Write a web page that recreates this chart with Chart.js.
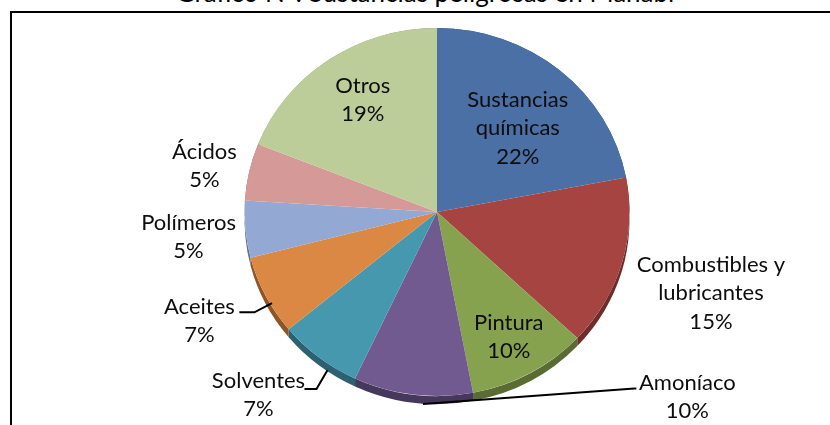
<!DOCTYPE html>
<html>
<head>
<meta charset="utf-8">
<script src="https://cdn.jsdelivr.net/npm/chart.js@4.4.1/dist/chart.umd.min.js"></script>
<style>
  html, body { margin: 0; padding: 0; background: #fff; }
  #wrap { position: relative; width: 830px; height: 425px; overflow: hidden; }
  #title { position: absolute; left: 0; width: 850px; top: -24px; text-align: center;
           font: 26px Lato, sans-serif; color: #000; white-space: nowrap; }
  #frame { position: absolute; left: 10px; top: 11px; width: 900px; height: 500px; border: 2px solid #000; }
  canvas { position: absolute; left: 0; top: 0; }
</style>
</head>
<body>
<div id="wrap">
  <div id="title">Gráfico N°: Sustancias peligrosas en Manabí</div>
  <div id="frame"></div>
  <canvas id="pieChart" width="830" height="425"></canvas>
</div>
<script>
// data
const categories = ["Sustancias químicas", "Combustibles y lubricantes", "Pintura", "Amoníaco",
  "Solventes", "Aceites", "Polímeros", "Ácidos", "Otros"];
const shares = [22, 15, 10, 10, 7, 7, 5, 5, 19];
const labelLines = [["Sustancias", "químicas"], ["Combustibles y", "lubricantes"], ["Pintura"], ["Amoníaco"],
  ["Solventes"], ["Aceites"], ["Polímeros"], ["Ácidos"], ["Otros"]];

// styles
const faceColors = ["#4b70a6", "#a64441", "#87a24f", "#715a90", "#4598ae", "#da8844", "#93a9d3", "#d59a98", "#bccd99"];
const rimColors = ["#2f4a70", "#6e2c2a", "#5a6b33", "#46375c", "#2b6171", "#8e5526", "#62718c", "#8c6565", "#7c8765"];
const stretchX = 1.046;   // pie is drawn a bit wider than tall
const depth = 8;          // 3d rim thickness

// label placement: distance from centre (in radii) and angle shift (deg) from the slice middle
const labelDist = [0.62, 1.49, 0.774, 1.644, 1.36, 1.369, 1.298, 1.234, 0.72];
const labelShift = [3, 1, 0, -59.5, 5.2, 1.4, -0.6, -0.9, 1.8];
// leader lines: [angle from top on the pie, radius factor, elbow dx, dy, end dx, dy] relative to label centre
const leaders = {
  3: [184, 1.046, -53, -8.5, -51, -8.5],
  4: [213.5, 1.03, 58, -6, 46, -6],
  5: [240, 0.99, 55, -8.5, 40, -8.5]
};

const rad = (deg) => (deg - 90) * Math.PI / 180;

const ellipsePie = {
  id: "ellipsePie",
  beforeDatasetsDraw(chart) {
    const arcs = chart.getDatasetMeta(0).data;
    const ctx = chart.ctx;
    ctx.save();
    ctx.translate(arcs[0].x, 0);
    ctx.scale(stretchX, 1);
    ctx.translate(-arcs[0].x, 0);
    arcs.forEach((a, i) => {
      ctx.beginPath();
      ctx.arc(a.x, a.y + depth, a.outerRadius, a.startAngle, a.endAngle);
      ctx.arc(a.x, a.y, a.outerRadius, a.endAngle, a.startAngle, true);
      ctx.closePath();
      ctx.fillStyle = rimColors[i];
      ctx.fill();
    });
  },
  afterDatasetsDraw(chart) {
    chart.ctx.restore();
  }
};

const pieLabels = {
  id: "pieLabels",
  afterDraw(chart) {
    const arcs = chart.getDatasetMeta(0).data;
    const ctx = chart.ctx;
    const total = shares.reduce((s, v) => s + v, 0);
    ctx.save();
    ctx.font = "22px Lato, sans-serif";
    ctx.fillStyle = "#0d0d0d";
    ctx.textAlign = "center";
    ctx.textBaseline = "middle";
    arcs.forEach((a, i) => {
      const mid = (a.startAngle + a.endAngle) / 2 + labelShift[i] * Math.PI / 180;
      const r = a.outerRadius * labelDist[i];
      const cx = a.x + r * stretchX * Math.cos(mid);
      const cy = a.y + r * Math.sin(mid);
      const lines = labelLines[i].concat([Math.round(shares[i] / total * 100) + "%"]);
      const lh = 28.5;
      lines.forEach((t, k) => {
        ctx.fillText(t, cx, cy + (k - (lines.length - 1) / 2) * lh);
      });
      const ld = leaders[i];
      if (ld) {
        const ang = rad(ld[0]);
        const px = a.x + a.outerRadius * ld[1] * stretchX * Math.cos(ang);
        const py = a.y + a.outerRadius * ld[1] * Math.sin(ang);
        ctx.beginPath();
        ctx.moveTo(px, py);
        ctx.lineTo(cx + ld[2], cy + ld[3]);
        ctx.lineTo(cx + ld[4], cy + ld[5]);
        ctx.strokeStyle = "#000";
        ctx.lineWidth = 2;
        ctx.stroke();
      }
    });
    ctx.restore();
  }
};

new Chart(document.getElementById("pieChart"), {
  type: "pie",
  data: {
    labels: categories,
    datasets: [{
      data: shares,
      backgroundColor: faceColors,
      borderWidth: 0
    }]
  },
  options: {
    responsive: false,
    animation: false,
    layout: { padding: { left: 253, right: 209, top: 28, bottom: 29 } },
    plugins: {
      legend: { display: false },
      tooltip: { enabled: false }
    }
  },
  plugins: [ellipsePie, pieLabels]
});
</script>
</body>
</html>
